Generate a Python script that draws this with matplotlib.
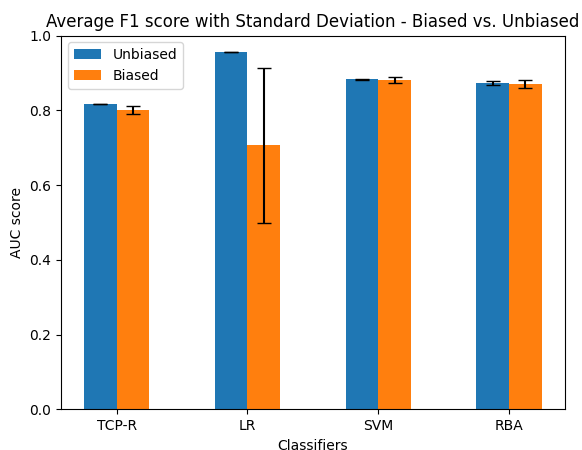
import numpy as np
import matplotlib
matplotlib.use("Agg")
import matplotlib.pyplot as plt

classifiers = ["TCP-R", "LR", "SVM", "RBA"]
unbiased_mean = [0.817, 0.956, 0.883, 0.873]
unbiased_std = [0.001, 0.001, 0.001, 0.005]
biased_mean = [0.801, 0.706, 0.881, 0.870]
biased_std = [0.011, 0.207, 0.007, 0.010]

x = np.arange(len(classifiers))
width = 0.25

fig = plt.figure(figsize=(5.82, 4.5), dpi=100)
ax = fig.add_axes([0.105, 0.0904, 0.865, 0.8306])

ax.bar(x - width / 2, unbiased_mean, width, yerr=unbiased_std, capsize=5,
       label="Unbiased", color="#1f77b4")
ax.bar(x + width / 2, biased_mean, width, yerr=biased_std, capsize=5,
       label="Biased", color="#ff7f0e")

ax.set_xticks(x)
ax.set_xticklabels(classifiers)
ax.set_ylim(0, 1.0)
ax.set_xlabel("Classifiers")
ax.set_ylabel("AUC score")
ax.set_title("Average F1 score with Standard Deviation - Biased vs. Unbiased")
ax.legend(loc="upper left")

fig.savefig("out.png", dpi=100)
